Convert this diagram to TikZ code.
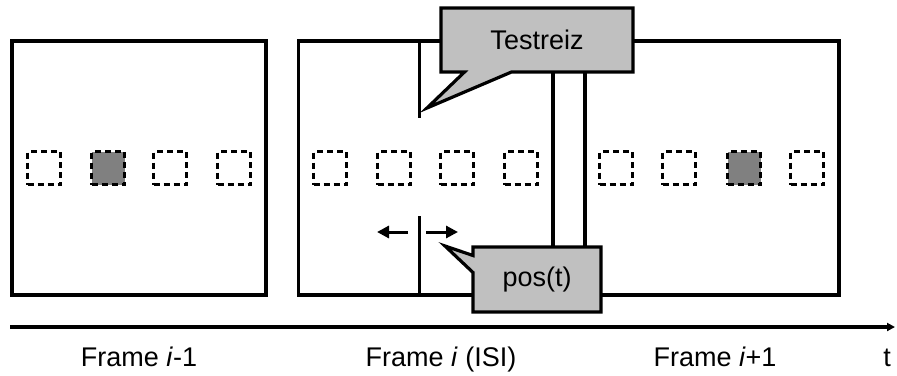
\documentclass[tikz,border=0pt]{standalone}
\usepackage{fontspec}
\setmainfont{Liberation Sans}
\usetikzlibrary{arrows.meta,shapes.callouts}
\definecolor{bubblegray}{HTML}{C0C0C0}
\definecolor{stimgray}{HTML}{808080}
\tikzset{
  framebox/.style={draw,line width=1.6pt,minimum width=127pt,minimum height=127pt,inner sep=0pt,outer sep=0pt},
  slot/.style={draw,line width=1.4pt,dash pattern=on 3pt off 2pt,minimum size=16.5pt,inner sep=0pt,outer sep=0pt},
  bubble/.style={rectangle callout,draw,fill=bubblegray,line width=1.6pt,inner sep=0pt,outer sep=0pt,font=\fontsize{13.5}{16}\selectfont},
  scan/.style={line width=1.5pt},
  move/.style={-{Triangle[length=6pt,width=6pt]},line width=1.5pt},
  timeline/.style={-{Triangle[length=4pt,width=4pt]},line width=1.6pt},
  lbl/.style={font=\fontsize{13.5}{16}\selectfont,inner sep=0pt,anchor=base},
}
\begin{document}
\begin{tikzpicture}[x=0.5pt,y=-0.5pt]
  \useasboundingbox (0,0) rectangle (897,375);
  % frames
  \node[framebox] (f1) at (139,168) {};
  \node[framebox] (f2) at (425.5,168) {};
  \node[framebox] (f3) at (712,168) {};
  \node[framebox,minimum width=16pt] (gap) at (569,168) {};
  \foreach \x/\n/\c in {44/a1/white,108/a2/stimgray,170/a3/white,234/a4/white,
                        330/b1/white,394/b2/white,457/b3/white,521/b4/white,
                        616/c1/white,679/c2/white,744/c3/stimgray,807/c4/white}
    \node[slot,fill=\c] (\n) at (\x,168) {};
  % scan line
  \coordinate (s1) at (419,41);
  \coordinate (s2) at (419,118);
  \coordinate (s3) at (419,216);
  \coordinate (s4) at (419,295);
  \draw[scan] (s1) -- (s2) (s3) -- (s4);
  \coordinate (ml0) at (408,232);
  \coordinate (ml1) at (377,232);
  \coordinate (mr0) at (426,232);
  \coordinate (mr1) at (458,232);
  \draw[move] (ml0) -- (ml1);
  \draw[move] (mr0) -- (mr1);
  % callouts
  \coordinate (stimtip) at (427,108);
  \coordinate (postip) at (445,246);
  \node[bubble,minimum width=96pt,minimum height=32pt,callout absolute pointer=(stimtip),callout pointer width=23.5pt] (stim) at (537,40) {Testreiz};
  \node[bubble,minimum width=64pt,minimum height=32.5pt,callout absolute pointer=(postip),callout pointer width=8.5pt] (pos) at (537,279.5) {pos(t)};
  % time axis
  \coordinate (t0) at (10,327);
  \coordinate (t1) at (895,327);
  \draw[timeline] (t0) -- (t1);
  \node[lbl] (l1) at (139,366) {Frame \textit{i}-1};
  \node[lbl] (l2) at (441,366) {Frame \textit{i} (ISI)};
  \node[lbl] (l3) at (715,366) {Frame \textit{i}+1};
  \node[lbl] (lt) at (887,366) {t};
\end{tikzpicture}
\end{document}
